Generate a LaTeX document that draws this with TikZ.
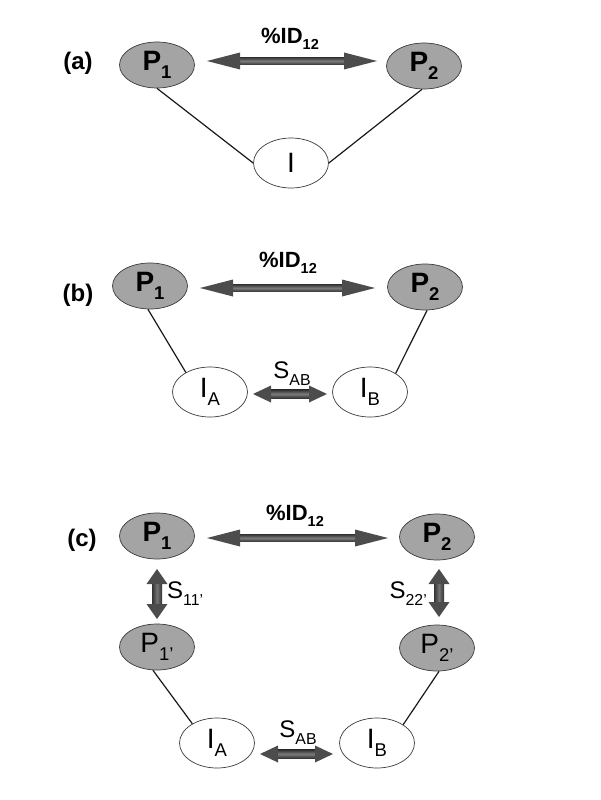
\documentclass[tikz,border=0pt]{standalone}
\usepackage{fontspec}
\setmainfont{Liberation Sans}
\usetikzlibrary{shapes.geometric,calc}
\definecolor{pgrey}{HTML}{A4A4A4}
\definecolor{edge}{HTML}{3A3A3A}
\newcommand\sbs[1]{\raisebox{-0.3em}{\scalebox{0.66}{#1}}}
\tikzset{
  prot/.style={ellipse,draw=edge,line width=0.7pt,fill=pgrey,inner sep=0pt,minimum width=75pt,minimum height=46pt,font=\fontsize{28}{28}\selectfont\bfseries},
  protb/.style={prot,font=\fontsize{28}{28}\selectfont},
  intf/.style={ellipse,draw=edge,line width=0.7pt,fill=white,inner sep=0pt,minimum width=75pt,minimum height=50pt,font=\fontsize{28}{28}\selectfont},
  panel/.style={font=\fontsize{24}{24}\selectfont\bfseries},
  idlab/.style={font=\fontsize{22}{22}\selectfont\bfseries},
  slab/.style={font=\fontsize{24}{24}\selectfont,inner sep=0pt},
  link/.style={draw=black!90,line width=1.2pt},
  headfill/.style={fill=black!70},
}
% #1 start, #2 end, #3 head length, #4 shaft half width, #5 head half width, #6 shading options
\newcommand\fatarrow[6]{%
  \coordinate (fa1) at ($(#1)!#3!(#2)$);
  \coordinate (fa2) at ($(#2)!#3!(#1)$);
  \shade[#6] ($(fa1)!#4!90:(#2)$) -- ($(fa2)!#4!-90:(#1)$) -- ($(fa2)!#4!90:(#1)$) -- ($(fa1)!#4!-90:(#2)$) -- cycle;
  \fill[headfill] (#1) -- ($(fa1)!#5!90:(#2)$) -- ($(fa1)!#5!-90:(#2)$) -- cycle;
  \fill[headfill] (#2) -- ($(fa2)!#5!90:(#1)$) -- ($(fa2)!#5!-90:(#1)$) -- cycle;
}
\tikzset{
  hshade/.style={top color=black!80,bottom color=black!80,middle color=black!52},
  vshade/.style={left color=black!80,right color=black!80,middle color=black!55},
}
\begin{document}
\begin{tikzpicture}[x=1pt,y=-1pt]
\useasboundingbox (0,0) rectangle (600,800);
% ---------- (a)
\node[panel] (la) at (78,63) {(a)};
\node[prot] (P1a) at (157,65) {P\sbs{1}};
\node[prot] (P2a) at (424,66) {P\sbs{2}};
\node[intf] (Ia) at (291,163) {I};
\node[idlab] (ida) at (290,39) {\%ID\sbs{12}};
\coordinate (a1) at (207,61);
\coordinate (a2) at (377,61);
\fatarrow{a1}{a2}{33pt}{3.8pt}{8.5pt}{hshade}
\draw[link] (P1a.-90) -- (Ia.180);
\draw[link] (P2a.-95) -- (Ia.0);
% ---------- (b)
\node[panel] (lb) at (78,295) {(b)};
\node[prot] (P1b) at (150,286) {P\sbs{1}};
\node[prot] (P2b) at (425,287) {P\sbs{2}};
\node[intf] (IAb) at (210,392) {I\sbs{A}};
\node[intf] (IBb) at (370,392) {I\sbs{B}};
\node[idlab] (idb) at (288,263) {\%ID\sbs{12}};
\node[slab] (sb) at (292,374) {S\sbs{AB}};
\coordinate (b1) at (200,288);
\coordinate (b2) at (375,288);
\fatarrow{b1}{b2}{33pt}{3.8pt}{8.5pt}{hshade}
\coordinate (b3) at (253,394);
\coordinate (b4) at (327,394);
\fatarrow{b3}{b4}{18pt}{4.2pt}{8.5pt}{hshade}
\draw[link] (P1b.-95) -- (IAb.141);
\draw[link] (P2b.-85) -- (IBb.36);
% ---------- (c)
\node[panel] (lc) at (82,540) {(c)};
\node[prot] (P1c) at (157,536) {P\sbs{1}};
\node[prot] (P2c) at (437,537) {P\sbs{2}};
\node[protb] (P1p) at (157,647) {P\sbs{1'}};
\node[protb] (P2p) at (437,648) {P\sbs{2'}};
\node[intf] (IAc) at (217,743) {I\sbs{A}};
\node[intf] (IBc) at (377,743) {I\sbs{B}};
\node[idlab] (idc) at (295,516) {\%ID\sbs{12}};
\node[slab] (sc) at (298,733) {S\sbs{AB}};
\node[slab,anchor=west] (s11) at (167,594) {S\sbs{11'}};
\node[slab,anchor=east] (s22) at (427,594) {S\sbs{22'}};
\coordinate (c1) at (207,538);
\coordinate (c2) at (388,538);
\fatarrow{c1}{c2}{33pt}{3.8pt}{8.5pt}{hshade}
\coordinate (c3) at (260,754);
\coordinate (c4) at (333,754);
\fatarrow{c3}{c4}{18pt}{4.2pt}{8.5pt}{hshade}
\coordinate (c5) at (157,569);
\coordinate (c6) at (157,619);
\fatarrow{c5}{c6}{15pt}{5pt}{10.5pt}{vshade}
\coordinate (c7) at (439,569);
\coordinate (c8) at (439,617);
\fatarrow{c7}{c8}{15pt}{5pt}{10.5pt}{vshade}
\draw[link] (P1p.-100) -- (IAc.142);
\draw[link] (P2p.-85) -- (IBc.35);
\end{tikzpicture}
\end{document}
